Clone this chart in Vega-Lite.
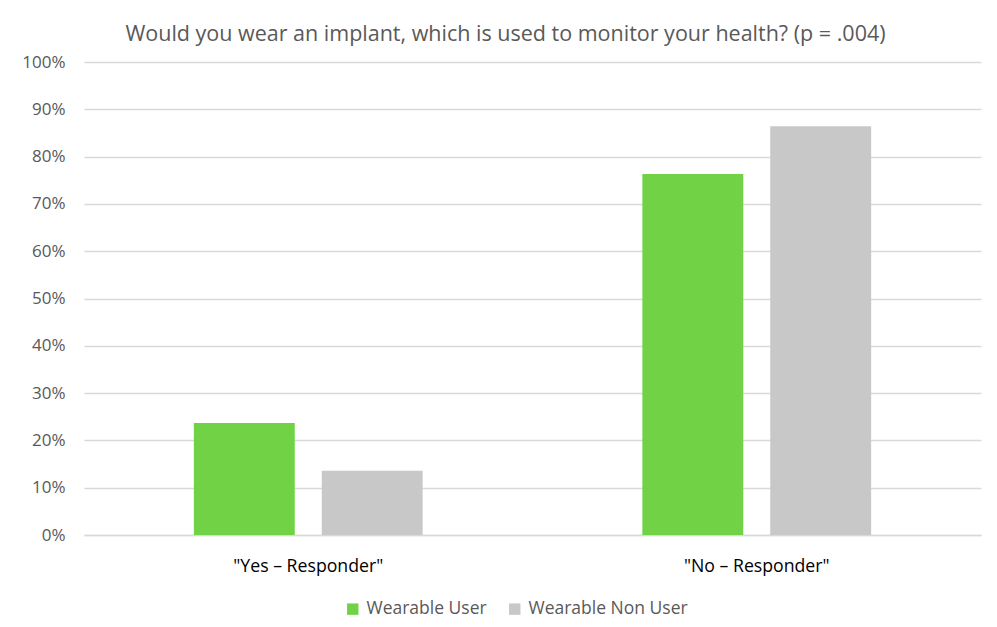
{
  "$schema": "https://vega.github.io/schema/vega-lite/v6.json",
  "width": 897,
  "height": 473,
  "autosize": {"type": "none"},
  "padding": {"left": 84, "top": 62, "right": 16, "bottom": 92},
  "background": "white",
  "title": {
    "text": "Would you wear an implant, which is used to monitor your health? (p = .004)",
    "font": "Open Sans",
    "fontSize": 21.5,
    "fontWeight": "normal",
    "color": "#595959",
    "anchor": "middle",
    "dx": -27,
    "offset": 8
  },
  "data": {
    "values": [
      {"response": "\"Yes – Responder\"", "group": "Wearable User", "pct": 0.237},
      {"response": "\"Yes – Responder\"", "group": "Wearable Non User", "pct": 0.136},
      {"response": "\"No – Responder\"", "group": "Wearable User", "pct": 0.763},
      {"response": "\"No – Responder\"", "group": "Wearable Non User", "pct": 0.864}
    ]
  },
  "mark": {"type": "bar"},
  "encoding": {
    "x": {
      "field": "response",
      "type": "nominal",
      "sort": ["\"Yes – Responder\"", "\"No – Responder\""],
      "scale": {"paddingInner": 0, "paddingOuter": 0},
      "axis": {
        "title": null,
        "labelAngle": 0,
        "labelFont": "Open Sans",
        "labelFontSize": 17.7,
        "labelColor": "#000000",
        "labelPadding": 22,
        "ticks": false,
        "domainColor": "#d9d9d9",
        "domainWidth": 1.5
      }
    },
    "xOffset": {
      "field": "group",
      "type": "nominal",
      "sort": ["Wearable User", "Wearable Non User"],
      "scale": {"paddingInner": 0.211, "paddingOuter": 0.859}
    },
    "y": {
      "field": "pct",
      "type": "quantitative",
      "scale": {"domain": [0, 1]},
      "axis": {
        "title": null,
        "format": ".0%",
        "values": [0, 0.1, 0.2, 0.3, 0.4, 0.5, 0.6, 0.7, 0.8, 0.9, 1],
        "labelFont": "Open Sans",
        "labelFontSize": 17,
        "labelColor": "#595959",
        "labelPadding": 19,
        "ticks": false,
        "domain": false,
        "gridColor": "#d9d9d9",
        "gridWidth": 1.5
      }
    },
    "color": {
      "field": "group",
      "type": "nominal",
      "sort": ["Wearable User", "Wearable Non User"],
      "scale": {"domain": ["Wearable User", "Wearable Non User"], "range": ["#70d244", "#c8c8c8"]},
      "legend": {
        "title": null,
        "orient": "none",
        "direction": "horizontal",
        "legendX": 260,
        "legendY": 538,
        "symbolType": "square",
        "symbolSize": 130,
        "symbolStrokeWidth": 0,
        "labelOffset": 5,
        "labelFont": "Open Sans",
        "labelFontSize": 17.5,
        "labelColor": "#595959",
        "columnPadding": 19
      }
    }
  },
  "config": {"view": {"stroke": null}}
}
